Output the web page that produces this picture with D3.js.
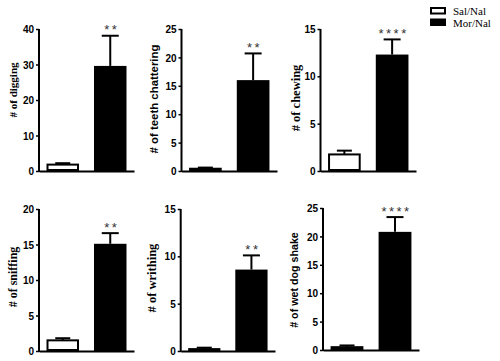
<!DOCTYPE html>
<html>
<head>
<meta charset="utf-8">
<script src="https://cdn.jsdelivr.net/npm/d3@7"></script>
<style>
  body { margin: 0; background: #fff; }
  .tick text { font-family: "Liberation Sans", Arial, sans-serif; font-weight: bold; font-size: 10px; }
</style>
</head>
<body>
<div id="chart"></div>
<script>
// data
const groups = ["Sal/Nal", "Mor/Nal"];
const labels = ["# of digging", "# of teeth chattering", "# of chewing", "# of sniffing", "# of writhing", "# of wet dog shake"];
const salMean = [1.8, 0.4, 1.75, 1.5, 0.2, 0.5];
const salSem = [0.4, 0.2, 0.4, 0.3, 0.15, 0.3];
const morMean = [29.6, 16.0, 12.3, 15.1, 8.6, 20.8];
const morSem = [8.5, 4.7, 1.6, 1.5, 1.5, 2.6];
const yMax = [40, 25, 15, 20, 15, 25];
const yStep = [10, 5, 5, 5, 5, 5];
const stars = ["**", "**", "****", "**", "**", "****"];

// panel placement
const layout = [
    { x0: 39, x1: 134, top: 29, bot: 171, labX: 13, labY: 90, font: "serif", size: 11 },
    { x0: 181.5, x1: 277, top: 29, bot: 171, labX: 154, labY: 99, font: "sans", size: 11.4 },
    { x0: 320.5, x1: 416, top: 29, bot: 171, labX: 296, labY: 98, font: "serif", size: 12.5 },
    { x0: 39, x1: 134, top: 209, bot: 351, labX: 13, labY: 277, font: "serif", size: 12 },
    { x0: 180.7, x1: 275, top: 209, bot: 351, labX: 152, labY: 278, font: "serif", size: 12.5 },
    { x0: 323, x1: 419, top: 208, bot: 350, labX: 294, labY: 280, font: "sans", size: 10.7 }
];

const w = 500, h = 361;
const svg = d3.select("#chart").append("svg")
    .attr("width", w)
    .attr("height", h)
    .style("background", "#fff");

labels.forEach((lab, i) => {
    const L = layout[i];
    const g = svg.append("g");

    const x = d3.scaleBand()
        .domain(groups)
        .range([L.x0, L.x1])
        .paddingInner(0.316)
        .paddingOuter(0.158);

    const y = d3.scaleLinear()
        .domain([0, yMax[i]])
        .range([L.bot, L.top]);

    const rows = [
        { grp: groups[0], mean: salMean[i], sem: salSem[i], fill: "#fff" },
        { grp: groups[1], mean: morMean[i], sem: morSem[i], fill: "#000" }
    ];

    // error bars (upper only)
    rows.forEach(d => {
        const cx = x(d.grp) + x.bandwidth() / 2;
        const capW = d.fill === "#fff" ? 15 : 17;
        g.append("line")
            .attr("x1", cx).attr("x2", cx)
            .attr("y1", y(d.mean)).attr("y2", y(d.mean + d.sem))
            .attr("stroke", "#000").attr("stroke-width", 2);
        g.append("line")
            .attr("x1", cx - capW / 2).attr("x2", cx + capW / 2)
            .attr("y1", y(d.mean + d.sem)).attr("y2", y(d.mean + d.sem))
            .attr("stroke", "#000").attr("stroke-width", 2);
    });

    g.selectAll("rect.bar")
        .data(rows)
        .enter()
        .append("rect")
        .attr("class", "bar")
        .attr("x", d => x(d.grp) + (d.fill === "#fff" ? 1 : 0))
        .attr("width", d => x.bandwidth() - (d.fill === "#fff" ? 2 : 0))
        .attr("y", d => y(d.mean))
        .attr("height", d => L.bot - y(d.mean) - (d.fill === "#fff" ? 1 : 0))
        .attr("fill", d => d.fill)
        .attr("stroke", "#000")
        .attr("stroke-width", d => d.fill === "#fff" ? 2 : 0);

    // significance stars
    const top = rows[1];
    g.append("text")
        .attr("x", x(top.grp) + x.bandwidth() / 2 + 1.5)
        .attr("y", y(top.mean + top.sem) - 1.5)
        .attr("text-anchor", "middle")
        .style("font-family", "'Liberation Sans', Arial, sans-serif")
        .style("font-size", "13px")
        .style("letter-spacing", "2.5px")
        .style("fill", "#333")
        .text(stars[i]);

    // axes
    const yAxis = d3.axisLeft(y)
        .tickValues(d3.range(0, yMax[i] + 0.001, yStep[i]))
        .tickSize(3)
        .tickSizeOuter(0)
        .tickPadding(2);
    const ya = g.append("g")
        .attr("transform", `translate(${L.x0},0)`)
        .call(yAxis);
    ya.select(".domain").attr("stroke-width", 2).attr("d", `M0,${L.bot + 1}V${L.top}`);
    ya.selectAll(".tick line").attr("stroke-width", 1.5);
    ya.selectAll(".tick text").attr("dy", "0.36em");

    const xAxis = d3.axisBottom(x).tickValues([]).tickSizeOuter(0);
    const xa = g.append("g")
        .attr("transform", `translate(0,${L.bot})`)
        .call(xAxis);
    xa.select(".domain").attr("stroke-width", 2);

    g.append("text")
        .attr("transform", `translate(${L.labX},${L.labY}) rotate(-90)`)
        .attr("text-anchor", "middle")
        .attr("dominant-baseline", "central")
        .style("font-family", L.font === "serif" ? "'Liberation Serif', 'Times New Roman', serif" : "'Liberation Sans', Arial, sans-serif")
        .style("font-weight", "bold")
        .style("font-size", L.size + "px")
        .text(lab);
});

// legend
const legend = svg.append("g");
const legFill = ["#fff", "#000"];
const legY = [8, 19.5];
groups.forEach((grp, i) => {
    legend.append("rect")
        .attr("x", 431).attr("y", legY[i])
        .attr("width", 14).attr("height", 5.5)
        .attr("fill", legFill[i])
        .attr("stroke", "#000")
        .attr("stroke-width", 2);
    legend.append("text")
        .attr("x", 453)
        .attr("y", legY[i] + 3)
        .attr("dominant-baseline", "central")
        .style("font-family", "'Liberation Serif', 'Times New Roman', serif")
        .style("font-size", "11px")
        .text(grp);
});
</script>
</body>
</html>
